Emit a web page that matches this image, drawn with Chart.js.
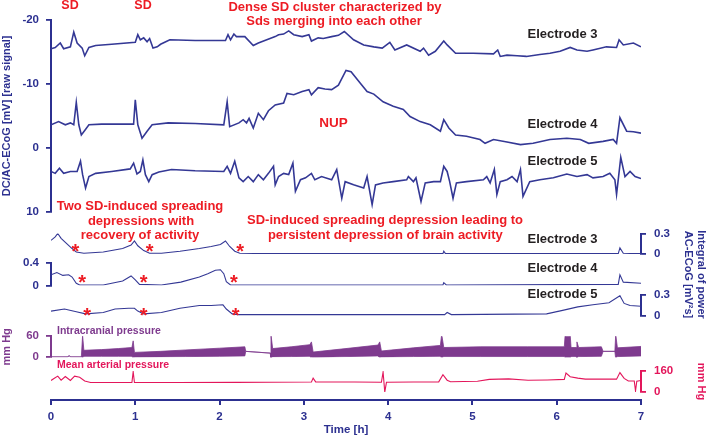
<!DOCTYPE html>
<html><head><meta charset="utf-8">
<script src="https://cdn.jsdelivr.net/npm/chart.js@4/dist/chart.umd.min.js"></script>
<style>html,body{margin:0;padding:0;background:#fff}canvas{display:block}</style>
</head><body>
<canvas id="c" width="708" height="437"></canvas>
<script>
// ---------- data (time in hours) ----------
const xTicks = [0,1,2,3,4,5,6,7];

// DC/AC-ECoG raw signal (mV, inverted axis)
const e3Time = [0,0.05,0.11,0.15,0.23,0.27,0.31,0.37,0.40,0.45,0.53,0.72,1.0,1.03,1.06,1.10,1.14,1.17,1.21,1.26,1.30,1.41,1.71,2.07,2.10,2.13,2.17,2.20,2.30,2.40,2.46,2.56,2.66,2.70,2.76,2.82,2.88,2.98,3.06,3.09,3.17,3.23,3.33,3.41,3.48,3.59,3.71,3.83,3.93,4.02,4.08,4.22,4.38,4.42,4.48,4.56,4.66,4.70,4.80,5.01,5.25,5.30,5.33,5.41,5.53,5.64,5.80,5.92,6.04,6.16,6.24,6.36,6.43,6.59,6.71,6.74,6.79,6.91,7.0];
const e3Val = [-15.5,-15.7,-16.4,-15.5,-15.8,-18.1,-16.4,-15.6,-14.4,-15.7,-16.0,-16.2,-16.5,-17.7,-16.9,-17.2,-16.6,-17.1,-15.6,-15.8,-16.2,-16.9,-16.8,-16.8,-17.7,-16.9,-17.8,-17.4,-17.4,-16.0,-16.4,-16.9,-17.4,-17.7,-17.8,-18.3,-17.7,-17.4,-17.7,-16.7,-17.2,-17.1,-17.4,-17.6,-18.2,-16.9,-16.1,-15.8,-15.6,-16.5,-15.3,-16.1,-15.1,-15.6,-14.5,-15.1,-16.7,-16.1,-14.8,-14.8,-14.7,-15.3,-14.3,-14.5,-14.4,-14.3,-14.6,-14.8,-15.1,-15.7,-15.3,-15.1,-15.3,-15.8,-15.7,-16.9,-16.1,-16.4,-15.8];
const e4Time = [0,0.09,0.17,0.23,0.27,0.30,0.33,0.36,0.40,0.45,0.60,0.98,1.0,1.03,1.08,1.14,1.20,1.39,1.71,2.05,2.09,2.12,2.23,2.28,2.32,2.35,2.40,2.46,2.52,2.58,2.66,2.76,2.80,2.88,2.98,3.06,3.09,3.17,3.25,3.33,3.41,3.50,3.56,3.67,3.75,3.83,3.94,4.06,4.18,4.26,4.38,4.50,4.62,4.66,4.72,4.80,4.93,5.09,5.15,5.25,5.41,5.57,5.72,5.92,6.12,6.28,6.38,6.55,6.67,6.71,6.75,6.83,6.91,7.0];
const e4Val = [-3.6,-4.1,-3.6,-3.9,-3.6,-7.1,-3.6,-2.0,-2.7,-3.6,-3.7,-3.7,-7.5,-3.6,-1.5,-2.6,-3.6,-3.9,-3.8,-3.6,-7.2,-3.3,-3.9,-4.4,-3.9,-4.6,-3.1,-5.4,-4.4,-5.8,-6.7,-7.0,-8.5,-8.3,-8.8,-9.1,-8.3,-9.4,-9.2,-9.1,-9.8,-12.1,-11.9,-10.1,-8.8,-8.4,-7.2,-6.5,-6.0,-4.9,-4.1,-3.6,-2.6,-4.4,-3.1,-2.0,-1.8,-1.3,-0.7,-1.3,-0.9,-0.5,-0.7,-1.3,-1.5,-1.3,-0.7,-1.0,-1.3,-0.7,-4.7,-2.6,-2.5,-2.3];
const e5Time = [0,0.05,0.10,0.15,0.23,0.31,0.35,0.375,0.41,0.45,0.53,0.72,0.94,0.98,1.02,1.06,1.09,1.12,1.16,1.20,1.28,1.43,1.71,2.05,2.09,2.13,2.18,2.23,2.28,2.34,2.40,2.46,2.52,2.58,2.64,2.66,2.70,2.76,2.82,2.87,2.90,2.96,3.02,3.09,3.13,3.21,3.33,3.39,3.45,3.49,3.59,3.71,3.75,3.81,3.85,3.94,4.06,4.22,4.24,4.30,4.33,4.39,4.44,4.54,4.62,4.66,4.70,4.73,4.77,4.81,4.93,5.13,5.17,5.21,5.26,5.29,5.33,5.41,5.47,5.53,5.57,5.60,5.68,5.80,5.96,6.12,6.24,6.36,6.43,6.55,6.63,6.69,6.71,6.76,6.81,6.87,6.93,7.0];
const e5Val = [3.7,4.0,3.2,4.0,3.7,3.7,2.1,4.2,6.3,4.5,4.0,3.7,3.3,2.4,4.1,3.7,1.9,4.2,5.3,4.2,3.8,3.4,3.6,3.7,2.9,4.0,2.1,4.7,5.3,4.5,5.3,4.2,5.0,4.0,2.9,5.8,4.5,4.0,4.2,2.4,6.8,5.0,4.7,4.0,5.0,4.5,5.0,3.4,7.9,5.3,5.8,6.3,4.5,8.9,5.8,5.5,5.3,5.0,4.5,5.3,4.7,8.4,5.5,5.3,5.3,2.9,3.7,5.3,7.9,5.5,5.3,5.0,4.5,5.5,3.4,7.3,5.3,5.0,4.5,5.3,3.4,7.6,5.3,5.0,4.7,4.1,4.5,4.2,4.7,4.5,4.0,5.0,7.3,1.5,4.5,3.7,4.5,4.8];

// Integral of power AC-ECoG (mV^2 s)
const i3Time = [0,0.05,0.08,0.12,0.18,0.25,0.30,0.39,0.62,0.85,0.95,0.99,1.03,1.10,1.17,1.31,1.53,1.76,1.90,2.01,2.07,2.12,2.18,2.24,2.68,4.65,4.66,4.68,6.73,6.75,6.79,7.0];
const i3Val = [0.20,0.25,0.30,0.23,0.16,0.08,0.03,0.01,0.03,0.08,0.13,0.19,0.12,0.05,0.01,0.01,0.04,0.08,0.11,0.14,0.19,0.11,0.04,0.01,0.005,0.005,0.04,0.005,0.005,0.09,0.01,0.005];
const i4Time = [0,0.07,0.14,0.21,0.25,0.30,0.34,0.62,0.85,0.95,1.0,1.05,1.31,1.54,1.76,1.86,1.95,2.01,2.05,2.08,2.13,4.65,4.66,4.69,6.73,6.75,6.79,7.0];
const i4Val = [0.19,0.23,0.18,0.19,0.15,0.04,0.01,0.01,0.08,0.17,0.10,0.02,0.01,0.06,0.15,0.21,0.27,0.28,0.21,0.07,0.01,0.01,0.05,0.01,0.02,0.19,0.06,0.04];
const i5Time = [0,0.16,0.30,0.41,0.62,0.76,0.92,0.99,1.03,1.10,1.31,1.53,1.76,1.90,2.04,2.08,2.15,2.22,4.67,4.70,4.75,5.88,6.07,6.25,6.43,6.62,6.75,6.80,6.87,7.0];
const i5Val = [0.07,0.10,0.06,0.03,0.05,0.10,0.11,0.11,0.07,0.03,0.05,0.11,0.15,0.15,0.16,0.10,0.03,0.02,0.02,0.05,0.02,0.03,0.08,0.13,0.16,0.19,0.29,0.18,0.15,0.14];

// Intracranial pressure envelope (mm Hg): low / high of the pulsatile band
const icpTime = [0,0.20,0.215,0.23,0.36,0.375,0.39,0.6,0.8,0.96,0.975,0.99,1.3,1.6,2.0,2.3,2.31,2.6,2.61,2.63,2.85,3.07,3.09,3.11,3.5,3.88,3.90,3.92,4.3,4.62,4.635,4.66,5.1,5.65,6.09,6.10,6.16,6.17,6.23,6.24,6.26,6.53,6.55,6.69,6.70,6.72,7.0];
const icpLow  = [1,1,5,1,1,-2,3,3,3,3,-4,0,1,2,3,4,17,12,-2,1,2,3,-4,-1,2,4,-2,0,2,3,-4,2,2,2,2,-2,-2,2,2,-2,2,3,17,17,-5,2,4];
const icpHigh = [1,1,5,1,1,62,20,22,25,28,47,14,17,21,26,30,17,12,64,25,30,36,44,15,25,35,44,18,27,34,66,28,30,30,30,64,64,28,28,44,28,30,17,17,65,27,31];

// Mean arterial pressure (mm Hg)
const mapTime = [0,0.04,0.08,0.12,0.17,0.23,0.28,0.34,0.40,0.47,0.7,0.96,0.975,0.99,1.5,2.2,2.6,3.09,3.11,3.14,3.6,3.92,3.94,3.96,3.98,4.3,4.60,4.65,4.70,4.74,5.06,5.2,5.43,5.66,5.89,6.09,6.11,6.16,6.25,6.34,6.5,6.71,6.75,6.80,6.85,6.92,6.935,6.95,7.0];
const mapVal = [88,105,121,90,118,88,121,112,84,72,72,72,155,72,72,73,74,76,106,77,76,74,152,0,74,76,77,132,90,78,82,96,100,90,92,96,145,116,106,98,98,98,148,104,84,84,8,82,88];

// asterisks (time, value on the matching integral axis)
const starE3Time = [0.29,1.17,2.245], starE3Val = [0.10,0.10,0.10];
const starE4Time = [0.37,1.10,2.17],  starE4Val = [0.13,0.13,0.13];
const starE5Time = [0.43,1.10,2.19],  starE5Val = [0.08,0.08,0.08];

// ---------- styling ----------
const FAM = "'Liberation Sans', Arial, sans-serif";
const NAVY = '#2c3090', TRACE = '#343895', RED = '#ed1c24', DARK = '#231f20';
const PURPLE = '#7e3a8e', CRIMSON = '#e3165b';

const zip = (t, v) => t.map((x, i) => ({x, y: v[i]}));
const line = (t, v, axis, color, w) => ({data: zip(t, v), yAxisID: axis, borderColor: color, borderWidth: w,
  pointRadius: 0, tension: 0, fill: false});

const tickFont = {family: FAM, size: 11.5, weight: 'bold'};
function valueAxis(pos, stack, weight, min, max, step, color, title, extra) {
  return Object.assign({
    type: 'linear', position: pos, stack: stack, stackWeight: weight, min: min, max: max,
    ticks: {stepSize: step, color: color, font: tickFont, padding: pos === 'left' ? 7 : 8, autoSkip: false},
    grid: {drawOnChartArea: false, drawTicks: true, tickLength: 5, color: color, lineWidth: 1.8},
    border: {display: true, color: color, width: 2},
    title: title ? {display: true, text: title, color: color, font: {family: FAM, size: 11, weight: 'bold'}, padding: 0}
                 : {display: false},
    afterFit: s => { s.width = pos === 'left' ? 51 : 67; }
  }, extra || {});
}
const filler = (pos, stack, weight) => ({type: 'linear', position: pos, stack: stack, stackWeight: weight, display: false});

const notes = {
  id: 'notes',
  afterDraw(chart) {
    const ctx = chart.ctx;
    ctx.save();
    ctx.textBaseline = 'middle';
    const put = (txt, x, y, size, color, align) => {
      ctx.font = 'bold ' + size + 'px ' + FAM;
      ctx.fillStyle = color; ctx.textAlign = align || 'center';
      ctx.fillText(txt, x, y);
    };
    put('SD', 70, 6, 12.5, RED);
    put('SD', 143, 6, 12.5, RED);
    put('Dense SD cluster characterized by', 335, 7, 13, RED);
    put('Sds merging into each other', 334, 21, 13, RED);
    put('NUP', 333.5, 123, 13.5, RED);
    put('Electrode 3', 562.5, 34, 13, DARK);
    put('Electrode 4', 562.5, 124.5, 13, DARK);
    put('Electrode 5', 562.5, 161, 13, DARK);
    put('Two SD-induced spreading', 140, 206, 13, RED);
    put('depressions with', 141, 221, 13, RED);
    put('recovery of activity', 140, 235.5, 13, RED);
    put('SD-induced spreading depression leading to', 385, 220, 13, RED);
    put('persistent depression of brain activity', 385.3, 235, 13, RED);
    put('Electrode 3', 562.5, 239.5, 13, DARK);
    put('Electrode 4', 562.5, 268.5, 13, DARK);
    put('Electrode 5', 562.5, 294, 13, DARK);
    put('Intracranial pressure', 57, 331, 10.5, PURPLE, 'left');
    put('Mean arterial pressure', 57, 365.5, 10.5, CRIMSON, 'left');
    // asterisks placed through the scales
    const xs = chart.scales.x;
    const sz = 20;
    ctx.font = 'bold ' + sz + 'px ' + FAM; ctx.fillStyle = RED; ctx.textAlign = 'center'; ctx.textBaseline = 'alphabetic';
    [[starE3Time, starE3Val, 'yI3'], [starE4Time, starE4Val, 'yI4'], [starE5Time, starE5Val, 'yI5']].forEach(([tt, vv, id]) => {
      tt.forEach((t, i) => {
        ctx.fillText('*', xs.getPixelForValue(t), chart.scales[id].getPixelForValue(vv[i]) + 0.555 * sz);
      });
    });
    ctx.restore();
  }
};

new Chart(document.getElementById('c'), {
  type: 'line',
  data: {
    datasets: [
      line(e3Time, e3Val, 'yE', TRACE, 1.6),
      line(e4Time, e4Val, 'yE', TRACE, 1.6),
      line(e5Time, e5Val, 'yE', TRACE, 1.6),
      line(i3Time, i3Val, 'yI3', TRACE, 1.1),
      line(i4Time, i4Val, 'yI4', TRACE, 1.1),
      line(i5Time, i5Val, 'yI5', TRACE, 1.1),
      line(icpTime, icpLow, 'yP', PURPLE, 0.8),
      Object.assign(line(icpTime, icpHigh, 'yP', PURPLE, 0.8), {fill: '-1', backgroundColor: PURPLE}),
      line(mapTime, mapVal, 'yM', CRIMSON, 1.1)
    ]
  },
  options: {
    responsive: false, animation: false, devicePixelRatio: 1,
    layout: {padding: {top: 20, left: 0, right: 0, bottom: 0}},
    plugins: {legend: {display: false}, tooltip: {enabled: false}},
    scales: {
      x: {
        type: 'linear', position: 'bottom', min: 0, max: 7,
        afterBuildTicks: s => { s.ticks = xTicks.map(v => ({value: v})); },
        ticks: {color: NAVY, font: tickFont, padding: 5, autoSkip: false},
        grid: {drawOnChartArea: false, drawTicks: true, tickLength: 5, color: NAVY, lineWidth: 2},
        border: {display: true, color: NAVY, width: 2},
        title: {display: true, text: 'Time [h]', color: NAVY, font: {family: FAM, size: 11.5, weight: 'bold'}, padding: 0},
        afterFit: s => { s.height = 37; }
      },
      // left stack: Chart.js places left boxes in reverse key order, so listed bottom to top
      fL3: filler('left', 'L', 42.7),
      yP: valueAxis('left', 'L', 21, 0, 60, 60, PURPLE, 'mm Hg'),
      fL2: filler('left', 'L', 50.8),
      yI4: valueAxis('left', 'L', 22.5, 0, 0.4, 0.4, NAVY, null),
      fL1: filler('left', 'L', 51.3),
      yE: valueAxis('left', 'L', 191.7, -20, 10, 10, NAVY, 'DC/AC-ECoG [mV] [raw signal]', {reverse: true}),
      // right stack (top to bottom)
      fR1: filler('right', 'R', 213.5),
      yI3: valueAxis('right', 'R', 20.5, 0, 0.3, 0.3, NAVY, null),
      tR: {
        type: 'linear', position: 'right', stack: 'R', stackWeight: 41, display: true,
        ticks: {display: false}, grid: {display: false}, border: {display: false},
        title: {display: true, text: ['Integral of power', 'AC-ECoG [mV\u00b2s]'], color: NAVY,
                font: {family: FAM, size: 11, weight: 'bold'}, padding: 0},
        afterFit: s => { s.width = 67; }
      },
      yI5: valueAxis('right', 'R', 21, 0, 0.3, 0.3, NAVY, null),
      fR2: filler('right', 'R', 55),
      yM: valueAxis('right', 'R', 21, 0, 160, 160, CRIMSON, 'mm Hg'),
      fR3: filler('right', 'R', 8)
    }
  },
  plugins: [notes]
});
</script>
</body></html>
